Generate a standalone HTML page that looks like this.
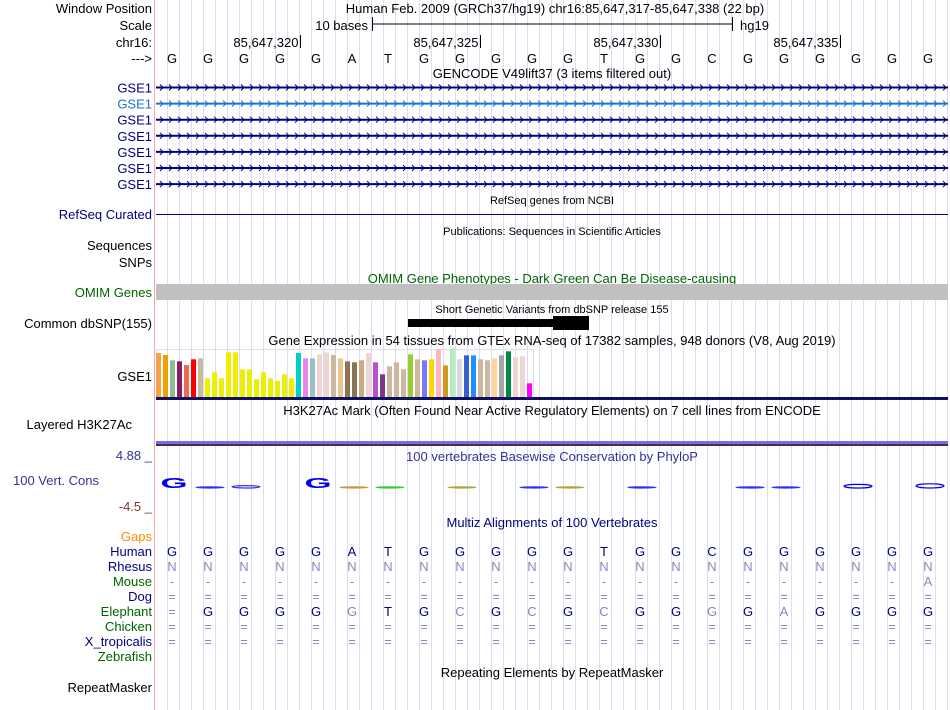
<!DOCTYPE html>
<html><head><meta charset="utf-8">
<style>
html,body{margin:0;padding:0;background:#fff;}
svg{display:block;font-family:"Liberation Sans",sans-serif;}
.l{font-size:13px;text-anchor:end;}
.t{font-size:13px;text-anchor:middle;}
.s{font-size:11px;text-anchor:middle;}
</style></head>
<body>
<svg id="c" width="950" height="710" viewBox="0 0 950 710">
<g id="grid"></g>
<line x1="154.5" y1="0" x2="154.5" y2="710" stroke="#ffaaaa" stroke-width="1"/>

<text class="l" x="152" y="13">Window Position</text>
<text class="t" x="555" y="13">Human Feb. 2009 (GRCh37/hg19)   chr16:85,647,317-85,647,338 (22 bp)</text>
<text class="l" x="152" y="30">Scale</text>
<text class="l" x="368" y="30">10 bases</text>
<g stroke="#000">
<line x1="372.5" y1="17" x2="372.5" y2="31"/><line x1="372" y1="24" x2="733" y2="24"/><line x1="732.5" y1="17" x2="732.5" y2="31"/></g>
<text x="740" y="30" font-size="13">hg19</text>
<text class="l" x="152" y="47">chr16:</text>
<g id="ruler"></g>
<text class="l" x="152" y="63">---&gt;</text>
<g id="seq"></g>

<text class="t" x="552" y="78">GENCODE V49lift37 (3 items filtered out)</text>
<g id="genes"></g>

<text class="s" x="552" y="204">RefSeq genes from NCBI</text>
<text class="l" x="152" y="219" fill="#000080">RefSeq Curated</text>
<line x1="156" y1="214.5" x2="948" y2="214.5" stroke="#000080"/>

<text class="s" x="552" y="235">Publications: Sequences in Scientific Articles</text>
<text class="l" x="152" y="250">Sequences</text>
<text class="l" x="152" y="267">SNPs</text>

<text class="t" x="552" y="283" fill="#006400">OMIM Gene Phenotypes - Dark Green Can Be Disease-causing</text>
<text class="l" x="152" y="297" fill="#006400">OMIM Genes</text>
<rect x="156" y="284" width="792" height="16" fill="#c0c0c0"/>

<text class="s" x="552" y="313">Short Genetic Variants from dbSNP release 155</text>
<text class="l" x="152" y="328">Common dbSNP(155)</text>
<rect x="408" y="319" width="146" height="8" fill="#000"/>
<rect x="553" y="316" width="36" height="14" fill="#000"/>

<text class="t" x="552" y="345">Gene Expression in 54 tissues from GTEx RNA-seq of 17382 samples, 948 donors (V8, Aug 2019)</text>
<text class="l" x="152" y="381">GSE1</text>
<rect x="156.5" y="349.5" width="377" height="48" fill="none" stroke="#e0e0e0"/>
<g id="gtex"></g>
<rect x="156" y="397" width="792" height="3" fill="#101060"/>

<text class="t" x="552" y="415">H3K27Ac Mark (Often Found Near Active Regulatory Elements) on 7 cell lines from ENCODE</text>
<text class="l" x="132" y="429">Layered H3K27Ac</text>
<rect x="156" y="441" width="792" height="3" fill="#7070e8"/>
<rect x="156" y="444" width="792" height="2" fill="#502848"/>

<text class="l" x="152" y="460" fill="#333399">4.88 _</text>
<text class="t" x="552" y="461" fill="#333399">100 vertebrates Basewise Conservation by PhyloP</text>
<text x="13" y="485" font-size="13" fill="#333399">100 Vert. Cons</text>
<text class="l" x="152" y="511" fill="#883333">-4.5 _</text>
<g id="cons"></g>

<text class="t" x="552" y="527" fill="#000080">Multiz Alignments of 100 Vertebrates</text>
<text class="l" x="152" y="541" fill="#ff8c00">Gaps</text>
<g id="multiz"></g>

<text class="t" x="552" y="677">Repeating Elements by RepeatMasker</text>
<text class="l" x="152" y="692">RepeatMasker</text>
</svg>
<script>
const NS='http://www.w3.org/2000/svg';
const bases=['G','G','G','G','G','A','T','G','G','G','G','G','T','G','G','C','G','G','G','G','G','G'];
const rulerTicks=['85,647,320','85,647,325','85,647,330','85,647,335'];
const rulerIdx=[4,9,14,19];
const gtexValues=[44,42,36.7,35.7,32,37.7,38.7,18.7,24.7,18.7,44.7,44.7,27.7,27.7,17.7,24.7,18.7,16,22.7,18.7,44,38.7,38.7,42.7,44.7,42,38.7,35.7,34.7,36.7,44,34.7,22.7,30.7,34.7,27.7,42.7,37.7,36.7,37.7,47.7,31.7,48.7,37.7,41.7,41.7,37.7,36.7,38.7,41.7,45.7,39.7,40.7,13.7];
const gtexColors=['#f4a24c','#f0a000','#8fbc8f','#8b1c62','#ee6a50','#ff0000','#cdb79e','#eeee00','#eeee00','#eeee00','#eeee00','#eeee00','#eeee00','#eeee00','#eeee00','#eeee00','#eeee00','#eeee00','#eeee00','#eeee00','#00cdcd','#ee82ee','#9ac0cd','#eed5d2','#eed5d2','#cdb79e','#eec591','#8b7355','#8b7355','#cdaa7d','#eed5d2','#b452cd','#7a378b','#cdb79e','#cdb79e','#cdb79e','#9acd32','#cdb79e','#7777ff','#ffd700','#ffb6c1','#cd9b1d','#b4eeb4','#d9d9d9','#3a5fcd','#1e90ff','#cdb79e','#cdb79e','#ffd39b','#a6a6a6','#008b45','#eed5d2','#eed5d2','#ff00ff'];
const consScores=[4.2,0.1,0.4,0,4.2,0.1,0.1,0,0.1,0,0.2,0.1,0,0.2,0,0,0.1,0.1,0,0.6,0,0.7];
const consColors=['#0000ee','#3333ee','#3333ee','#3333ee','#0000ee','#cc9933','#33cc33','#3333ee','#aaaa33','#3333ee','#3333ee','#aaaa33','#3333ee','#3333ee','#3333ee','#3333ee','#3333ee','#3333ee','#3333ee','#0000ee','#3333ee','#0000ee'];
const species=['Human','Rhesus','Mouse','Dog','Elephant','Chicken','X_tropicalis','Zebrafish'];
const speciesColors=['#000080','#000080','#006400','#000080','#006400','#006400','#000080','#006400'];
const elephant=['=','G','G','G','G','g','T','G','c','G','c','G','c','G','G','g','G','a','G','G','G','G'];
const mouseLast='A';
const geneRows=7;

const x0=156, bw=36;
const bx=i=>x0+bw*i+bw/2;
function mk(tag,attrs,parent,txt){const e=document.createElementNS(NS,tag);for(const k in attrs)e.setAttribute(k,attrs[k]);if(txt!==undefined)e.textContent=txt;parent.appendChild(e);return e;}

const grid=document.getElementById('grid');
for(let x=167;x<950;x+=12){const l=mk('line',{x1:x+.5,y1:0,x2:x+.5,y2:710,stroke:'#dcdcf4'},grid);

}

const ruler=document.getElementById('ruler');
rulerTicks.forEach((t,k)=>{const x=x0+bw*rulerIdx[k]+0.5;
const tx=mk('text',{x:x-2,y:47,'font-size':13,'text-anchor':'end'},ruler,t);


const ln=mk('line',{x1:x,y1:35,x2:x,y2:48,stroke:'#000'},ruler);

});

const seq=document.getElementById('seq');
bases.forEach((b,i)=>{const t=mk('text',{x:bx(i)-2,y:63,'font-size':13,'text-anchor':'middle'},seq,b);

});

const genes=document.getElementById('genes');
for(let r=0;r<geneRows;r++){const y=87.5+r*16.1;const col=r==1?'#1874cd':'#000080';
const lab=mk('text',{x:152,y:y+5,'font-size':13,'text-anchor':'end',fill:col},genes,'GSE1');


const g=mk('g',{stroke:col,fill:'none'},genes);


mk('line',{x1:156,y1:y,x2:948,y2:y,'stroke-width':2},g);
let d='';for(let x=160;x<946;x+=9){d+=`M${x},${y-3}L${x+3},${y}L${x},${y+3}`;}
mk('path',{d:d,'stroke-width':1},g);}

const gtex=document.getElementById('gtex');
const base=397, scaleY=1.0;
gtexValues.forEach((v,i)=>{const h=v*scaleY;const r=mk('rect',{x:156+i*7,y:base-h,width:5,height:h,fill:gtexColors[i]},gtex);

});

const cons=document.getElementById('cons');
const cy=488;
consScores.forEach((s,i)=>{if(s<=0)return;
if(s>1){const t=mk('text',{x:bx(i),y:cy,'font-size':24,'font-weight':'bold','text-anchor':'middle',fill:consColors[i],transform:`translate(${bx(i)},${cy}) scale(1.45,0.62) translate(${-bx(i)},${-cy})`},cons,bases[i]);

}
else{const h=Math.max(1.2,s*6);const r=mk('ellipse',{cx:bx(i),cy:cy-h/2,rx:14,ry:h/2,fill:'none',stroke:consColors[i],'stroke-width':1.2},cons);

}});

const mz=document.getElementById('multiz');
species.forEach((sp,k)=>{const y=556+k*15;
const lab=mk('text',{x:152,y:y,'font-size':13,'text-anchor':'end',fill:speciesColors[k]},mz,sp);


if(sp==='Zebrafish')return;
bases.forEach((b,i)=>{let ch,col='#000080';
if(sp==='Human'){ch=b;}
else if(sp==='Rhesus'){ch='N';col='#8888bb';}
else if(sp==='Mouse'){ch=i===21?mouseLast:'-';col='#8888bb';}
else if(sp==='Elephant'){const e=elephant[i];ch=e.toUpperCase();col=(e===e.toUpperCase()&&e!=='=')?'#000080':'#8888bb';}
else{ch='=';col='#8888bb';}
const t=mk('text',{x:bx(i)-2,y:y,'font-size':13,'text-anchor':'middle',fill:col},mz,ch);

});});
</script>
</body></html>
